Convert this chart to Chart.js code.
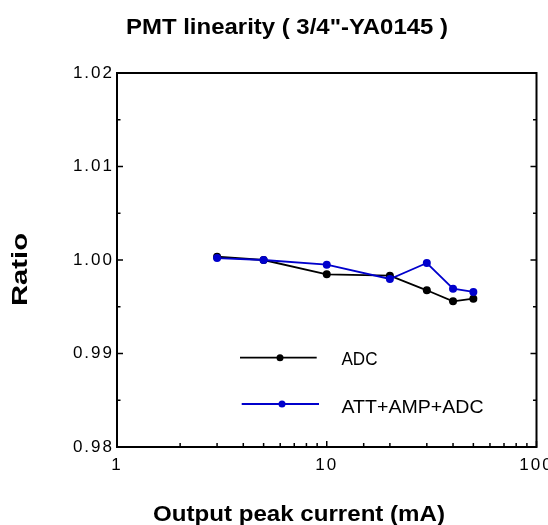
<!DOCTYPE html>
<html><head><meta charset="utf-8">
<script src="https://cdn.jsdelivr.net/npm/chart.js@4/dist/chart.umd.min.js"></script>
<style>html,body{margin:0;padding:0;background:#fff}#wrap{width:548px;height:525px}</style>
</head><body><div id="wrap"><canvas id="c" width="548" height="525"></canvas></div>
<script>
// ---- data ----
const currentMA = [3, 5, 10, 20, 30, 40, 50];
const ratioADC = [1.00035, 1.0000, 0.99847, 0.99832, 0.99676, 0.99558, 0.99586];
const ratioATT = [1.00021, 1.0000, 0.99950, 0.99797, 0.99968, 0.99693, 0.99658];
const seriesLabels = ['ADC', 'ATT+AMP+ADC'];
const seriesColors = ['#000000', '#0000cc'];
const xMajorTicks = [1, 10, 100];
const yMajorTicks = [0.98, 0.99, 1.00, 1.01, 1.02];
const chartTitle = 'PMT linearity ( 3/4"-YA0145 )';
const xTitle = 'Output peak current (mA)';
const yTitle = 'Ratio';

const FAM = "'Liberation Sans', Arial, Helvetica, sans-serif";
const near = (a, b) => Math.abs(a - b) < 1e-9 * Math.max(1, Math.abs(b));

function drawFitText(ctx, text, x, y, font, width, align, rot) {
  ctx.save();
  ctx.letterSpacing = '0px';
  ctx.font = font;
  ctx.fillStyle = '#000';
  ctx.textBaseline = 'alphabetic';
  ctx.textAlign = 'left';
  const w = ctx.measureText(text).width;
  const s = width ? width / w : 1;
  ctx.translate(x, y);
  if (rot) ctx.rotate(rot);
  ctx.scale(s, 1);
  let dx = 0;
  if (align === 'center') dx = -w / 2;
  ctx.fillText(text, dx, 0);
  ctx.restore();
}

const framePlugin = {
  id: 'frame',
  beforeDraw(chart) { chart.ctx.letterSpacing = '2px'; },
  afterDatasetsDraw(chart) {
    const ctx = chart.ctx, a = chart.chartArea;
    const xs = chart.scales.x, ys = chart.scales.y;
    ctx.save();
    ctx.letterSpacing = '0px';
    ctx.strokeStyle = '#000';
    ctx.lineWidth = 2;
    ctx.strokeRect(a.left, a.top, a.right - a.left, a.bottom - a.top);
    ctx.lineWidth = 1.5;
    ctx.beginPath();
    ys.ticks.forEach(t => {
      const p = ys.getPixelForValue(t.value);
      const major = yMajorTicks.some(m => near(t.value, m));
      const L = major ? 6 : 3.5;
      ctx.moveTo(a.left, p); ctx.lineTo(a.left + L, p);
      ctx.moveTo(a.right, p); ctx.lineTo(a.right - L, p);
    });
    xs.ticks.forEach(t => {
      const p = xs.getPixelForValue(t.value);
      const major = xMajorTicks.some(m => near(t.value, m));
      const L = major ? 6 : 4;
      ctx.moveTo(p, a.bottom); ctx.lineTo(p, a.bottom - L);
    });
    ctx.stroke();
    ctx.restore();
  },
  afterDraw(chart) {
    const ctx = chart.ctx;
    // legend inside plot, from datasets
    const rows = [{y: 357.7, x0: 240, x1: 316.7, xm: 280, ty: 365},
                  {y: 404, x0: 241.7, x1: 319, xm: 282, ty: 413}];
    const widths = [36, 142];
    chart.data.datasets.forEach((ds, i) => {
      const r = rows[i];
      ctx.save();
      ctx.letterSpacing = '0px';
      ctx.strokeStyle = ds.borderColor; ctx.fillStyle = ds.borderColor;
      ctx.lineWidth = 1.8;
      ctx.beginPath(); ctx.moveTo(r.x0, r.y); ctx.lineTo(r.x1, r.y); ctx.stroke();
      ctx.beginPath(); ctx.arc(r.xm, r.y, 3.5, 0, Math.PI * 2); ctx.fill();
      ctx.restore();
      drawFitText(ctx, ds.label, 341.5, r.ty, '17.5px ' + FAM, widths[i], 'left', 0);
    });
    drawFitText(ctx, chartTitle, 287, 34, 'bold 22px ' + FAM, 322, 'center', 0);
    drawFitText(ctx, xTitle, 299, 520.5, 'bold 22px ' + FAM, 292, 'center', 0);
    drawFitText(ctx, yTitle, 27, 269.5, 'bold 22px ' + FAM, 73, 'center', -Math.PI / 2);
  }
};

const mk = (ys) => currentMA.map((x, i) => ({x: x, y: ys[i]}));
new Chart(document.getElementById('c').getContext('2d'), {
  type: 'scatter',
  data: {
    datasets: [
      {label: seriesLabels[0], data: mk(ratioADC), borderColor: seriesColors[0], backgroundColor: seriesColors[0],
       showLine: true, borderWidth: 1.8, pointRadius: 4, pointHoverRadius: 4, pointBorderWidth: 0, order: 2},
      {label: seriesLabels[1], data: mk(ratioATT), borderColor: seriesColors[1], backgroundColor: seriesColors[1],
       showLine: true, borderWidth: 1.8, pointRadius: 4, pointHoverRadius: 4, pointBorderWidth: 0, order: 1}
    ]
  },
  options: {
    responsive: false, animation: false, devicePixelRatio: 1,
    layout: {padding: {left: 0, right: 11.5, top: 73, bottom: 38}},
    plugins: {legend: {display: false}, title: {display: false}, tooltip: {enabled: false}},
    events: [],
    scales: {
      x: {
        type: 'logarithmic', min: 1, max: 100,
        grid: {display: false, drawTicks: false}, border: {display: false},
        ticks: {autoSkip: false, maxRotation: 0, minRotation: 0, padding: 8, color: '#000',
                font: {family: FAM, size: 17},
                callback: (v) => { const m = xMajorTicks.find(t => near(v, t)); return m !== undefined ? String(m) : ''; }},
        afterFit: (s) => { s.height = 40; s.paddingLeft = 0; s.paddingRight = 0; }
      },
      y: {
        min: 0.98, max: 1.02,
        grid: {display: false, drawTicks: false}, border: {display: false},
        ticks: {stepSize: 0.005, autoSkip: false, padding: 3, color: '#000',
                font: {family: FAM, size: 17},
                callback: (v) => { const m = yMajorTicks.find(t => near(v, t)); return m !== undefined ? m.toFixed(2) : ''; }},
        afterFit: (s) => { s.width = 117; s.paddingTop = 0; s.paddingBottom = 0; }
      }
    }
  },
  plugins: [framePlugin]
});
</script>
</body></html>
